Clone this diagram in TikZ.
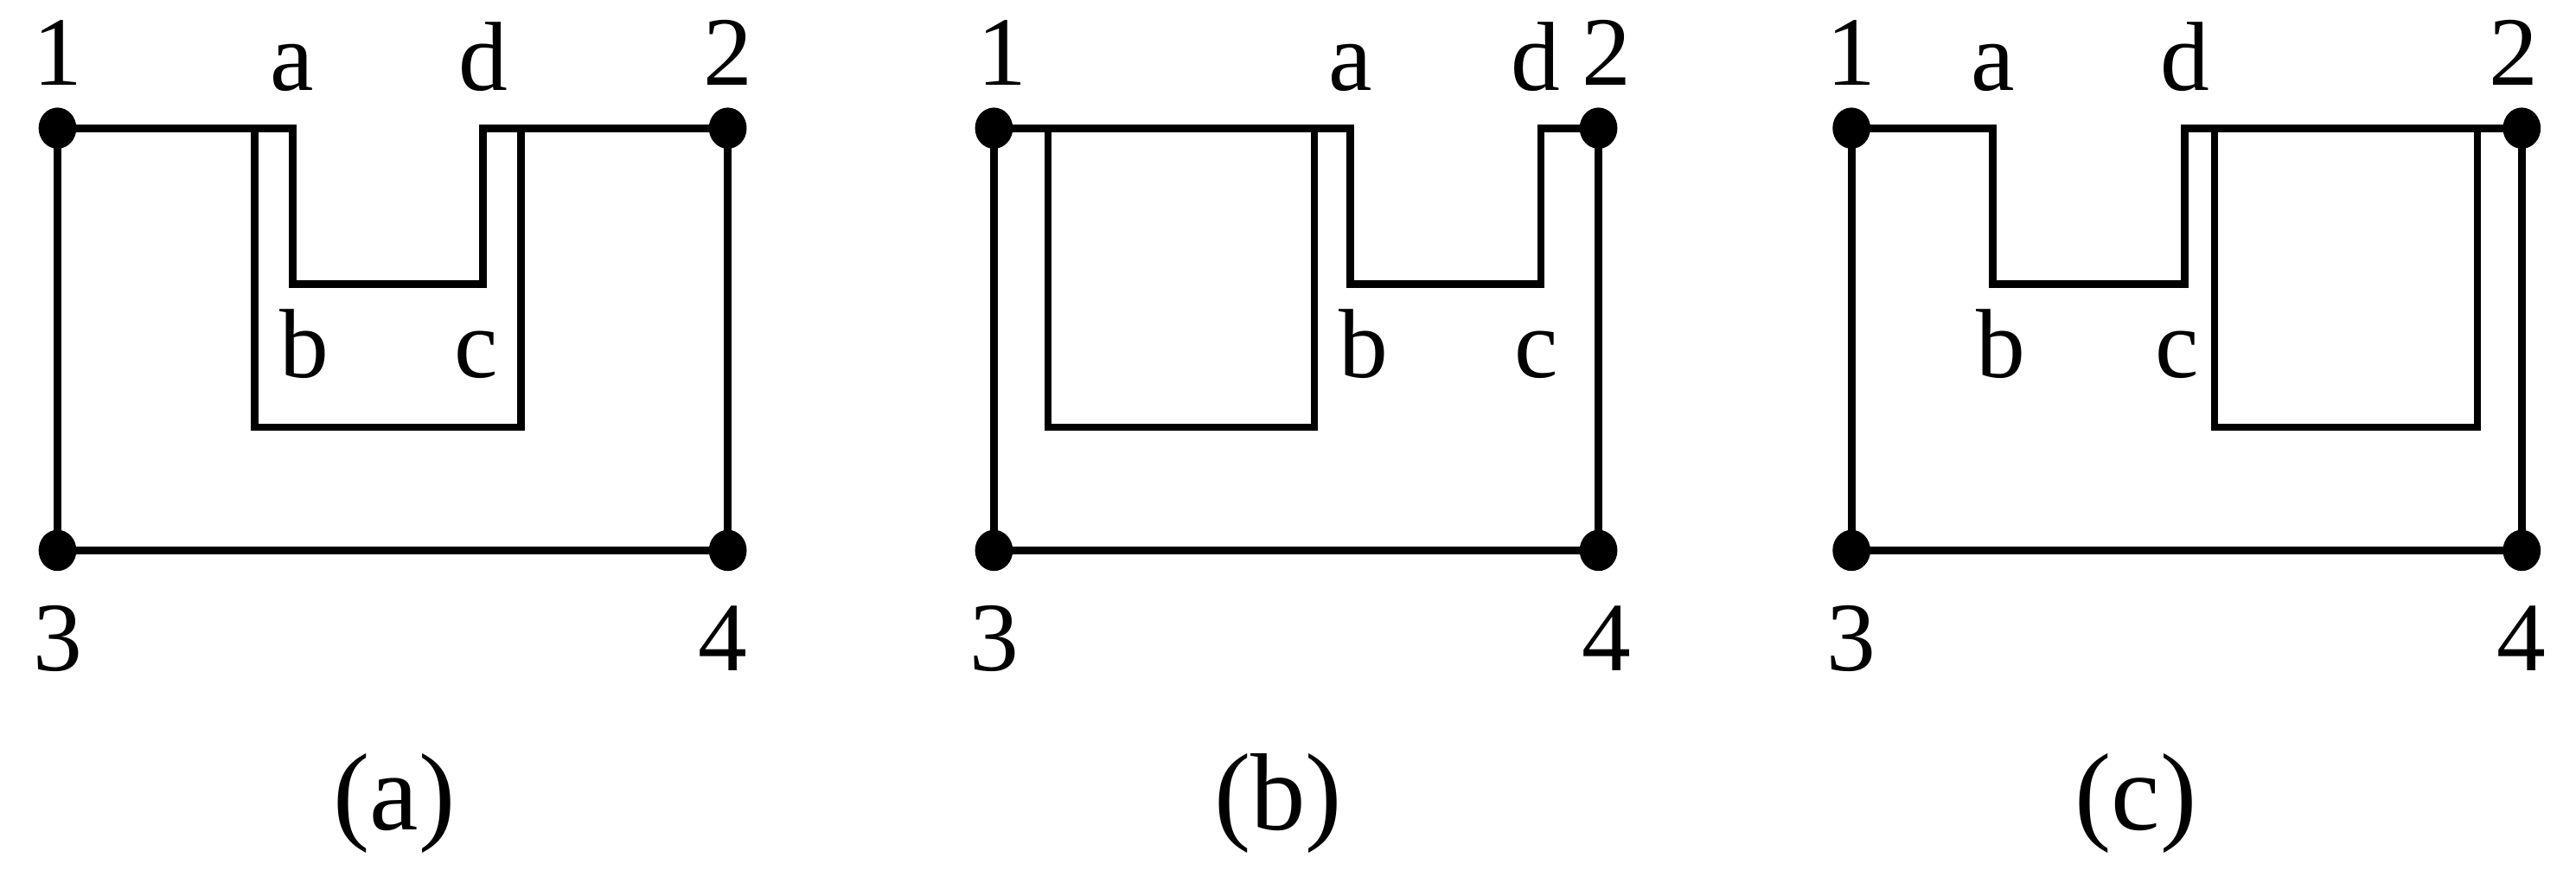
\documentclass[tikz,border=0pt]{standalone}
\usepackage{fontspec}
\usetikzlibrary{shapes.geometric}
\setmainfont{Liberation Serif}
\begin{document}
\begin{tikzpicture}[x=0.01cm,y=-0.01cm,line width=1.3pt,
  dot/.style={ellipse,fill=black,inner sep=0pt,minimum width=0.23cm,minimum height=0.25cm},
  lab/.style={font=\fontsize{17}{17}\selectfont,anchor=base},
  captext/.style={font=\fontsize{19}{19}\selectfont,anchor=base}]
\useasboundingbox (0,0) rectangle (1568,537);
% panel a
\node[dot] (a1) at (35,78) {}; \node[dot] (a2) at (443,78) {};
\node[dot] (a3) at (35,335) {}; \node[dot] (a4) at (443,335) {};
\draw (a1.center) -- (178,78) -- (178,173) -- (294,173) -- (294,78) -- (a2.center) -- (a4.center) -- (a3.center) -- cycle;
\draw (155,78) -- (155,260) -- (317,260) -- (317,78);
\node[lab] at (35,52) {1}; \node[lab] at (443,52) {2};
\node[lab] at (178,55) {a}; \node[lab] at (294,55) {d};
\node[lab] at (185,230) {b}; \node[lab] at (290,230) {c};
\node[lab] at (35,408) {3}; \node[lab] at (440,408) {4};
\node[captext] at (240,505) {(a)};
% panel b
\node[dot] (b1) at (605,78) {}; \node[dot] (b2) at (973,78) {};
\node[dot] (b3) at (605,335) {}; \node[dot] (b4) at (973,335) {};
\draw (b1.center) -- (822,78) -- (822,173) -- (938,173) -- (938,78) -- (b2.center) -- (b4.center) -- (b3.center) -- cycle;
\draw (638,78) rectangle (800,260);
\node[lab] at (610,52) {1}; \node[lab] at (978,52) {2};
\node[lab] at (822,55) {a}; \node[lab] at (935,55) {d};
\node[lab] at (830,230) {b}; \node[lab] at (935,230) {c};
\node[lab] at (605,408) {3}; \node[lab] at (978,408) {4};
\node[captext] at (778,505) {(b)};
% panel c
\node[dot] (c1) at (1127,78) {}; \node[dot] (c2) at (1535,78) {};
\node[dot] (c3) at (1127,335) {}; \node[dot] (c4) at (1535,335) {};
\draw (c1.center) -- (1213,78) -- (1213,173) -- (1330,173) -- (1330,78) -- (c2.center) -- (c4.center) -- (c3.center) -- cycle;
\draw (1348,78) rectangle (1508,260);
\node[lab] at (1127,52) {1}; \node[lab] at (1530,52) {2};
\node[lab] at (1213,55) {a}; \node[lab] at (1330,55) {d};
\node[lab] at (1218,230) {b}; \node[lab] at (1325,230) {c};
\node[lab] at (1127,408) {3}; \node[lab] at (1535,408) {4};
\node[captext] at (1300,505) {(c)};
\end{tikzpicture}
\end{document}
